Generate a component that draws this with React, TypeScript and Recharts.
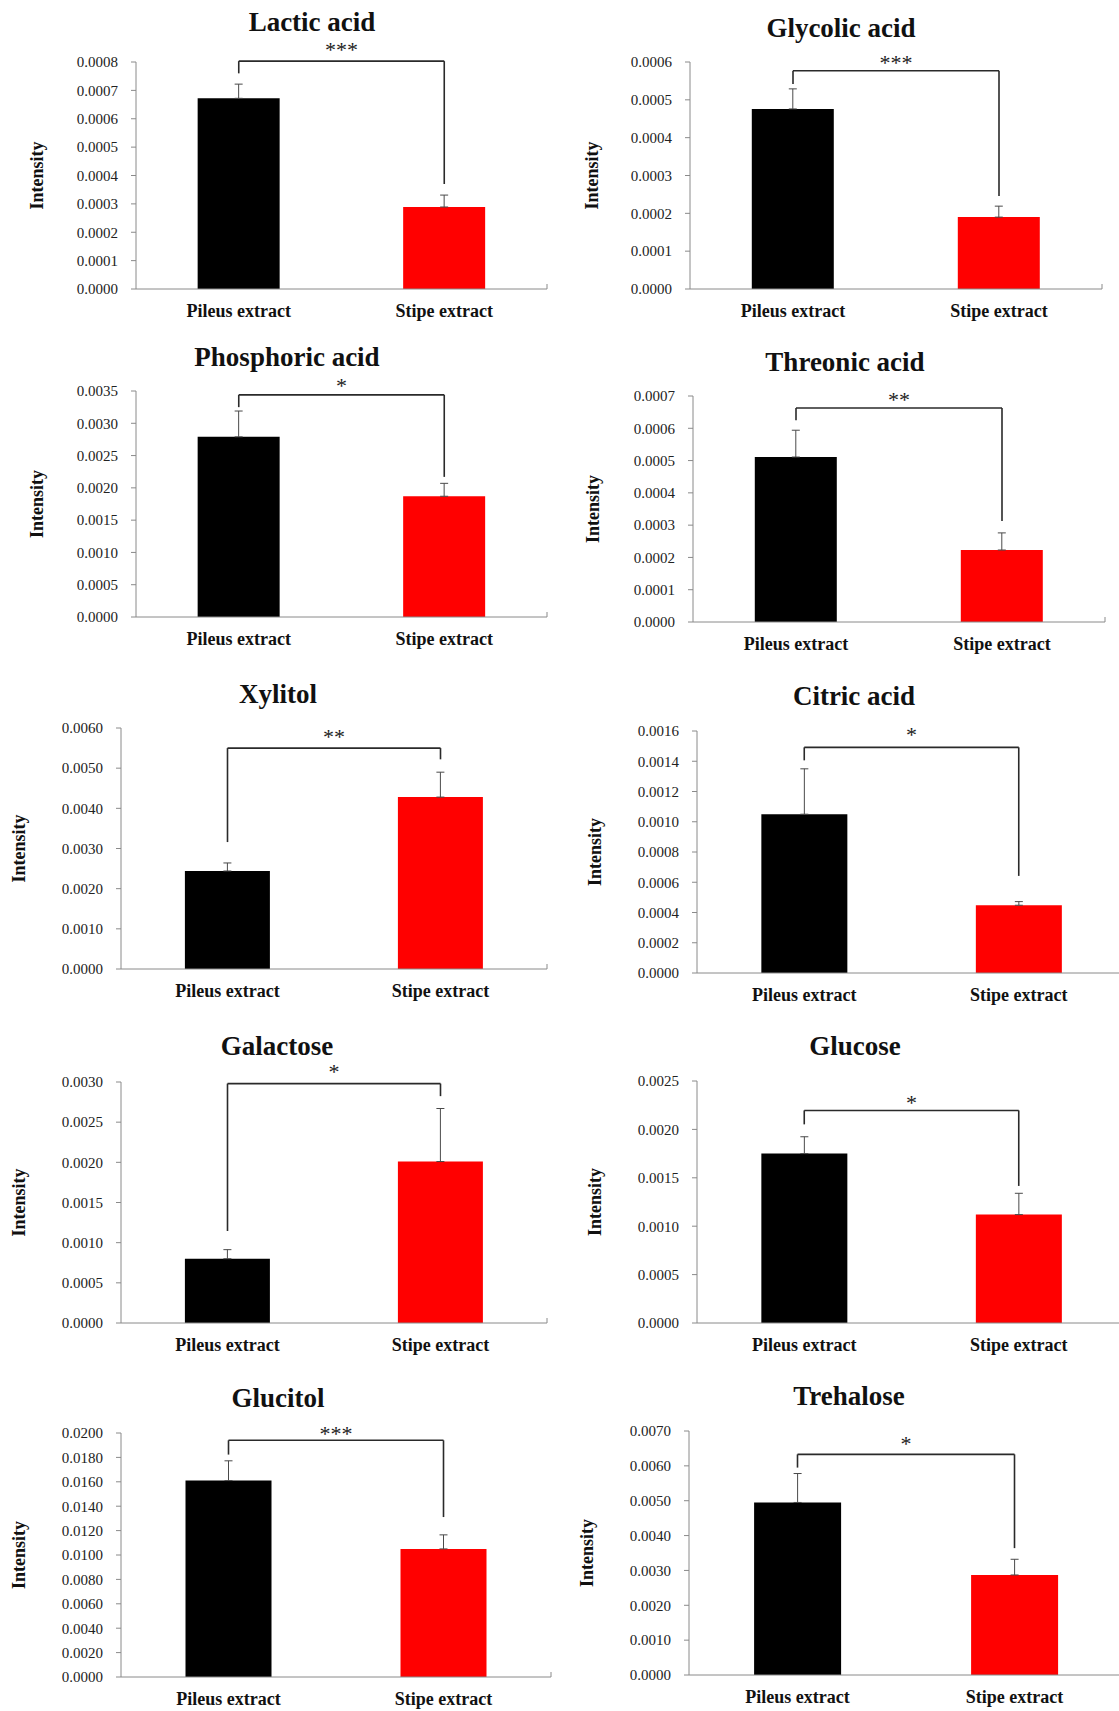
import { BarChart, Bar, XAxis, YAxis, ErrorBar, ReferenceLine, Cell } from 'recharts';

const groups = ['Pileus extract', 'Stipe extract'];

const titles = [
    'Lactic acid', 'Glycolic acid', 'Phosphoric acid', 'Threonic acid', 'Xylitol',
    'Citric acid', 'Galactose', 'Glucose', 'Glucitol', 'Trehalose',
];

// mean intensity, [pileus, stipe]
const means = [
    [0.000672, 0.000289],
    [0.000476, 0.00019],
    [0.00279, 0.00187],
    [0.000511, 0.000223],
    [0.00244, 0.00428],
    [0.00105, 0.000448],
    [0.0008, 0.00201],
    [0.00175, 0.00112],
    [0.0161, 0.0105],
    [0.00495, 0.00287],
];

// upper error bar length, [pileus, stipe]
const errors = [
    [0.00005, 0.000042],
    [0.000053, 0.000029],
    [0.0004, 0.0002],
    [0.000083, 0.000053],
    [0.0002, 0.00062],
    [0.0003, 0.000024],
    [0.000113, 0.00066],
    [0.000174, 0.00022],
    [0.00162, 0.00115],
    [0.00083, 0.00045],
];

const yTicks = [
    [0, 0.0001, 0.0002, 0.0003, 0.0004, 0.0005, 0.0006, 0.0007, 0.0008],
    [0, 0.0001, 0.0002, 0.0003, 0.0004, 0.0005, 0.0006],
    [0, 0.0005, 0.001, 0.0015, 0.002, 0.0025, 0.003, 0.0035],
    [0, 0.0001, 0.0002, 0.0003, 0.0004, 0.0005, 0.0006, 0.0007],
    [0, 0.001, 0.002, 0.003, 0.004, 0.005, 0.006],
    [0, 0.0002, 0.0004, 0.0006, 0.0008, 0.001, 0.0012, 0.0014, 0.0016],
    [0, 0.0005, 0.001, 0.0015, 0.002, 0.0025, 0.003],
    [0, 0.0005, 0.001, 0.0015, 0.002, 0.0025],
    [0, 0.002, 0.004, 0.006, 0.008, 0.01, 0.012, 0.014, 0.016, 0.018, 0.02],
    [0, 0.001, 0.002, 0.003, 0.004, 0.005, 0.006, 0.007],
];

const stars = ['***', '***', '*', '**', '**', '*', '*', '*', '***', '*'];

// significance bracket: bar height, left leg end, right leg end
const bracketTop = [0.000803, 0.000577, 0.00344, 0.000663, 0.0055, 0.001492, 0.00298, 0.002196, 0.0194, 0.00633];
const bracketLeft = [0.00076, 0.000542, 0.00325, 0.000625, 0.00316, 0.001406, 0.001145, 0.002052, 0.01823, 0.00595];
const bracketRight = [0.00037, 0.000246, 0.00217, 0.000313, 0.00522, 0.000642, 0.002824, 0.001416, 0.01311, 0.00364];

// layout (page px): plot rectangles, titles, axis labels
const plots = [
    { l: 136, t: 62, r: 547, b: 289 },
    { l: 690, t: 62, r: 1102, b: 289 },
    { l: 136, t: 391, r: 547, b: 617 },
    { l: 693, t: 396, r: 1105, b: 622 },
    { l: 121, t: 728, r: 547, b: 969 },
    { l: 697, t: 731, r: 1126, b: 973 },
    { l: 121, t: 1082, r: 547, b: 1323 },
    { l: 697, t: 1081, r: 1126, b: 1323 },
    { l: 121, t: 1433, r: 551, b: 1677 },
    { l: 689, t: 1431, r: 1123, b: 1675 },
];
const titlePos = [
    { x: 312, y: 31 }, { x: 841, y: 37 }, { x: 287, y: 366 }, { x: 845, y: 371 }, { x: 278, y: 703 },
    { x: 854, y: 705 }, { x: 277, y: 1055 }, { x: 855, y: 1055 }, { x: 278, y: 1407 }, { x: 849, y: 1405 },
];
const intensityX = [42.5, 598, 42.5, 599, 25, 601, 25, 601, 25, 593];
const starOffset = [4.5, 0.5, 1.5, 0.5, 4.5, 5.5, 4.5, 0, -0.5, 3.5];

const FONT = '"Liberation Serif", "Times New Roman", serif';
const AXIS = '#8a8a8a';
const ML = 100, MT = 40, MR = 12, MB = 44;

function Panel({ i }: { i: number }) {
    const p = plots[i];
    const plotH = p.b - p.t;
    const width = p.r - p.l + ML + MR;
    const height = plotH + MT + MB;
    const max = yTicks[i][yTicks[i].length - 1];
    const tickLen = (max * 5) / plotH;
    const data = groups.map((g, k) => ({ group: g, value: means[i][k], err: [0, errors[i][k]] }));

    return (
        <div style={{ position: 'absolute', left: p.l - ML, top: p.t - MT }}>
            <BarChart
                width={width}
                height={height}
                data={data}
                margin={{ top: MT, right: MR, bottom: 0, left: 0 }}
                barCategoryGap="30%"
            >
                <XAxis
                    dataKey="group"
                    height={MB}
                    interval={0}
                    axisLine={{ stroke: AXIS }}
                    tickLine={false}
                    tickSize={0}
                    tickMargin={15}
                    tick={{ fontSize: 18, fontWeight: 'bold', fill: '#111', fontFamily: FONT }}
                />
                <XAxis xAxisId="frame" type="number" domain={[0, 2]} allowDataOverflow hide />
                <YAxis
                    width={ML}
                    domain={[0, max]}
                    ticks={yTicks[i]}
                    interval={0}
                    allowDataOverflow
                    axisLine={{ stroke: AXIS }}
                    tickLine={{ stroke: AXIS }}
                    tickSize={5}
                    tickMargin={13}
                    tickFormatter={(v: number) => v.toFixed(4)}
                    tick={{ fontSize: 15, fill: '#222', fontFamily: FONT }}
                />
                <Bar dataKey="value" isAnimationActive={false}>
                    <Cell fill="#000000" />
                    <Cell fill="#ff0000" />
                    <ErrorBar dataKey="err" direction="y" width={4} stroke="#4a4a4a" strokeWidth={1} isAnimationActive={false} />
                </Bar>
                <ReferenceLine xAxisId="frame" segment={[{ x: 1, y: 0 }, { x: 1, y: tickLen }]} stroke={AXIS} ifOverflow="visible" />
                <ReferenceLine xAxisId="frame" segment={[{ x: 2, y: 0 }, { x: 2, y: tickLen }]} stroke={AXIS} ifOverflow="visible" />
                <ReferenceLine
                    segment={[{ x: groups[0], y: bracketTop[i] }, { x: groups[1], y: bracketTop[i] }]}
                    stroke="#2a2a2a"
                    strokeWidth={1.6}
                    ifOverflow="visible"
                    label={{ value: stars[i], position: 'top', offset: starOffset[i], fontSize: 22, fill: '#222', fontFamily: FONT }}
                />
                <ReferenceLine
                    segment={[{ x: groups[0], y: bracketLeft[i] }, { x: groups[0], y: bracketTop[i] }]}
                    stroke="#2a2a2a"
                    strokeWidth={1.6}
                    ifOverflow="visible"
                />
                <ReferenceLine
                    segment={[{ x: groups[1], y: bracketRight[i] }, { x: groups[1], y: bracketTop[i] }]}
                    stroke="#2a2a2a"
                    strokeWidth={1.6}
                    ifOverflow="visible"
                />
            </BarChart>
        </div>
    );
}

export default function App() {
    return (
        <div style={{ position: 'absolute', left: 0, top: 0, width: 1119, height: 1711, overflow: 'hidden', background: '#fff' }}>
            {titles.map((_, i) => <Panel key={i} i={i} />)}
            <svg width={1119} height={1711} style={{ position: 'absolute', left: 0, top: 0, pointerEvents: 'none' }}>
                {titles.map((t, i) => (
                    <text key={t} x={titlePos[i].x} y={titlePos[i].y} textAnchor="middle" fontSize={27} fontWeight="bold" fontFamily={FONT} fill="#111">
                        {t}
                    </text>
                ))}
                {plots.map((p, i) => {
                    const cy = (p.t + p.b) / 2;
                    return (
                        <text key={i} x={intensityX[i]} y={cy} transform={`rotate(-90 ${intensityX[i]} ${cy})`} textAnchor="middle" fontSize={18} fontWeight="bold" fontFamily={FONT} fill="#111">
                            Intensity
                        </text>
                    );
                })}
            </svg>
        </div>
    );
}
